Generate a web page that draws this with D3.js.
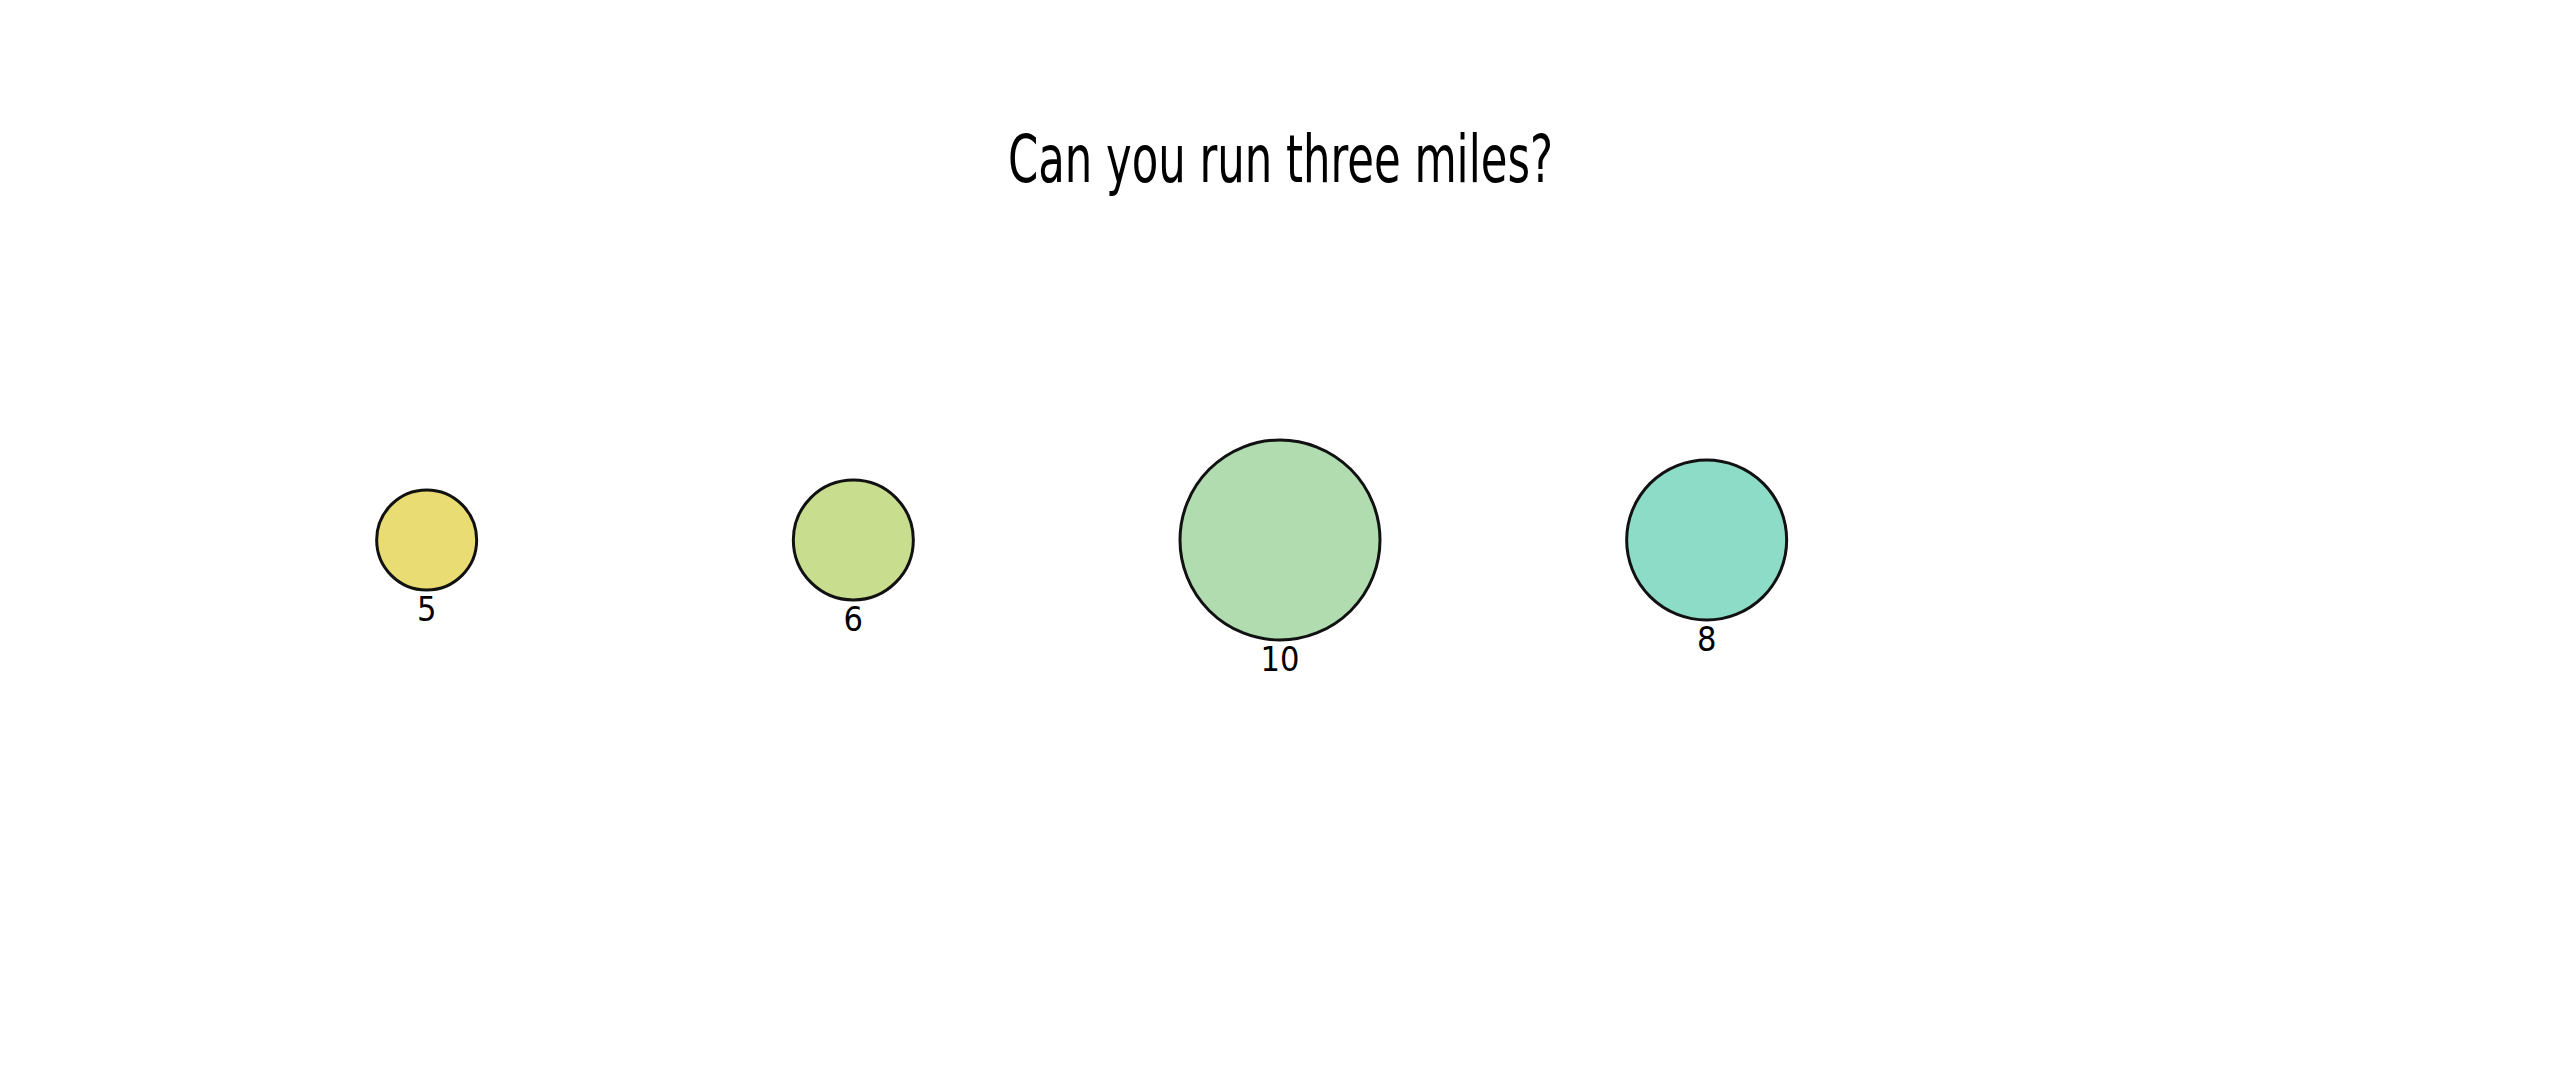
<!DOCTYPE html>
<html>
<head>
<meta charset="utf-8">
<script src="https://cdn.jsdelivr.net/npm/d3@7"></script>
<style>
  html, body { margin: 0; padding: 0; background: #fff; }
  svg { display: block; }
</style>
</head>
<body>
<script>
// chart data
var title = "Can you run three miles?";
var categories = ["a", "b", "c", "d"];
var values = [5, 6, 10, 8];
var colors = ["#e9dc72", "#c8de8e", "#b0dcb0", "#8cdcc8"];

var width = 2560, height = 1080;
var font = "'Liberation Sans Narrow', 'DejaVu Sans Condensed', 'Liberation Sans', sans-serif";

var svg = d3.select("body").append("svg")
    .attr("width", width)
    .attr("height", height);

// title
svg.append("text")
    .attr("x", 1280.5)
    .attr("y", 182)
    .attr("text-anchor", "middle")
    .attr("textLength", 545)
    .attr("lengthAdjust", "spacingAndGlyphs")
    .style("font-family", font)
    .style("font-size", "66px")
    .style("fill", "#000")
    .text(title);

// scales
var x = d3.scalePoint()
    .domain(categories)
    .range([width / 6, width * 4 / 6]);
var r = d3.scaleLinear()
    .domain([0, 10])
    .range([0, 100]);
var color = d3.scaleOrdinal()
    .domain(categories)
    .range(colors);
var cy = 540;

var data = categories.map(function (c, i) { return { key: c, value: values[i] }; });

var node = svg.append("g").selectAll("g")
    .data(data)
    .enter().append("g")
    .attr("transform", function (d) { return "translate(" + x(d.key) + "," + cy + ")"; });

node.append("circle")
    .attr("r", function (d) { return r(d.value); })
    .style("fill", function (d) { return color(d.key); })
    .style("stroke", "#111")
    .style("stroke-width", 3);

node.append("text")
    .attr("y", function (d) { return r(d.value) + 31; })
    .attr("text-anchor", "middle")
    .style("font-family", font)
    .style("font-size", "34px")
    .style("fill", "#000")
    .text(function (d) { return d.value; });
</script>
</body>
</html>
